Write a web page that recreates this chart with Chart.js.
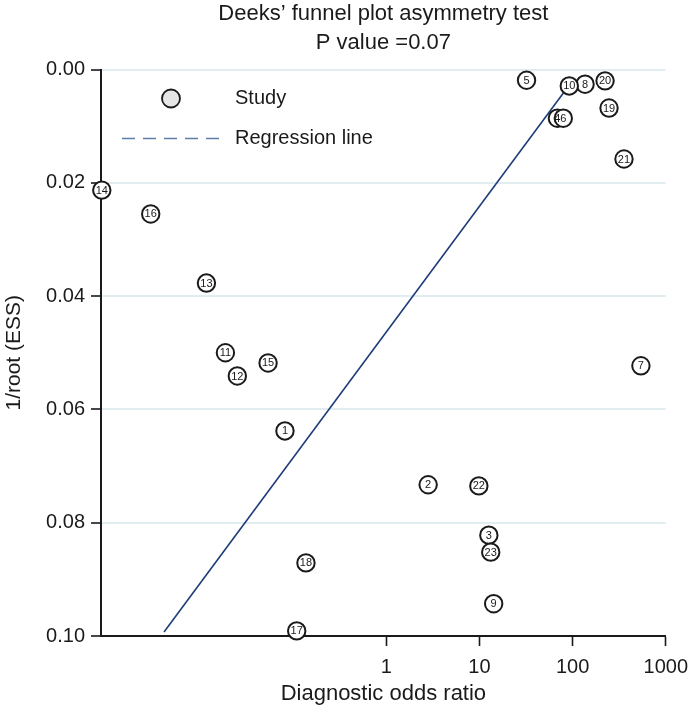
<!DOCTYPE html>
<html lang="en">
<head>
<meta charset="UTF-8">
<title>Deeks funnel plot</title>
<script src="https://cdn.jsdelivr.net/npm/chart.js@4.4.0/dist/chart.umd.min.js"></script>
<style>
  html, body { margin: 0; padding: 0; background: #fff; }
</style>
</head>
<body>
<canvas id="funnel" width="697" height="716"></canvas>
<script>
// study numbers, diagnostic odds ratio and 1/root(ESS)
const studies    = ['1', '2', '3', '4', '5', '6', '7', '8', '9', '10', '11', '12',
                    '13', '14', '15', '16', '17', '18', '19', '20', '21', '22', '23'];
const dor        = [0.0815, 2.81, 12.6, 68.6, 32.0, 79.4, 541, 136, 14.2, 92.1, 0.0187, 0.0251,
                    0.0117, 0.00088, 0.0537, 0.00295, 0.109, 0.137, 246, 223, 356, 9.84, 13.2];
const invRootEss = [0.0638, 0.0733, 0.0822, 0.0086, 0.0019, 0.0086, 0.0523, 0.0026, 0.0943, 0.0029, 0.0500, 0.0541,
                    0.0377, 0.0213, 0.0518, 0.0255, 0.0991, 0.0871, 0.0068, 0.0020, 0.0158, 0.0735, 0.0852];

// regression line end points
const lineDor = [0.0041, 86];
const lineY   = [0.0993, 0.0034];

// axis ticks
const xTicks = [1, 10, 100, 1000];
const yTicks = [0, 0.02, 0.04, 0.06, 0.08, 0.10];

const titleLines = ['Deeks\u2019 funnel plot asymmetry test', 'P value =0.07'];

const FONT = '"Liberation Sans", Arial, Helvetica, sans-serif';
const INK = '#1a1a1a';

// two-line title, centred over the plot area
const plotTitle = {
    id: 'plotTitle',
    afterDraw(chart) {
        const ctx = chart.ctx;
        const a = chart.chartArea;
        const cx = (a.left + a.right) / 2;
        ctx.save();
        ctx.fillStyle = INK;
        ctx.font = '22px ' + FONT;
        ctx.textAlign = 'center';
        ctx.textBaseline = 'middle';
        ctx.fillText(titleLines[0], cx, 14);
        ctx.fillText(titleLines[1], cx, 43);
        ctx.restore();
    }
};

// draws the study number inside each circle
const studyLabels = {
    id: 'studyLabels',
    afterDatasetsDraw(chart) {
        const ctx = chart.ctx;
        const meta = chart.getDatasetMeta(0);
        ctx.save();
        ctx.fillStyle = INK;
        ctx.font = '11px ' + FONT;
        ctx.textAlign = 'center';
        ctx.textBaseline = 'middle';
        meta.data.forEach((pt, i) => {
            ctx.fillText(studies[i], pt.x, pt.y + 0.5);
        });
        ctx.restore();
    }
};

// legend sits inside the plot, top left
const innerLegend = {
    id: 'innerLegend',
    afterDraw(chart) {
        const ctx = chart.ctx;
        const a = chart.chartArea;
        const mx = a.left + 70, tx = a.left + 134;
        const y1 = a.top + 29, y2 = a.top + 69;
        ctx.save();
        // study marker
        ctx.beginPath();
        ctx.arc(mx, y1, 9, 0, Math.PI * 2);
        ctx.fillStyle = '#e6e6e6';
        ctx.fill();
        ctx.lineWidth = 1.8;
        ctx.strokeStyle = INK;
        ctx.stroke();
        // dashed regression line
        ctx.beginPath();
        ctx.setLineDash([13, 8]);
        ctx.moveTo(a.left + 21, y2);
        ctx.lineTo(a.left + 118, y2);
        ctx.strokeStyle = '#5b7fa8';
        ctx.lineWidth = 1.6;
        ctx.stroke();
        ctx.setLineDash([]);
        // labels
        ctx.fillStyle = INK;
        ctx.font = '20px ' + FONT;
        ctx.textAlign = 'left';
        ctx.textBaseline = 'middle';
        ctx.fillText('Study', tx, y1);
        ctx.fillText('Regression line', tx, y2);
        ctx.restore();
    }
};

const points = dor.map((x, i) => ({ x: x, y: invRootEss[i] }));
const regLine = lineDor.map((x, i) => ({ x: x, y: lineY[i] }));

const config = {
    type: 'scatter',
    data: {
        datasets: [{
            label: 'Study',
            data: points,
            clip: false,
            pointRadius: 8.7,
            pointHoverRadius: 8.7,
            pointBackgroundColor: '#ffffff',
            pointBorderColor: INK,
            pointBorderWidth: 2
        }, {
            type: 'line',
            label: 'Regression line',
            data: regLine,
            borderColor: '#1f3b78',
            borderWidth: 1.6,
            pointRadius: 0,
            fill: false
        }]
    },
    options: {
        responsive: false,
        animation: false,
        layout: { padding: { top: 69.5, right: 28, bottom: 0, left: 0 } },
        plugins: {
            legend: { display: false },
            tooltip: { enabled: false }
        },
        scales: {
            x: {
                type: 'logarithmic',
                min: 0.000863,
                max: 1000,
                afterBuildTicks: s => { s.ticks = xTicks.map(v => ({ value: v })); },
                afterFit: s => { s.height = 80; },
                ticks: {
                    autoSkip: false,
                    maxRotation: 0,
                    padding: 9,
                    color: INK,
                    font: { family: FONT, size: 20 },
                    callback: v => String(v)
                },
                grid: { drawOnChartArea: false, tickColor: INK, tickLength: 10, tickWidth: 1.6 },
                border: { color: INK, width: 2 },
                title: {
                    display: true,
                    text: 'Diagnostic odds ratio',
                    color: INK,
                    font: { family: FONT, size: 22 },
                    padding: { top: 0, bottom: 9 }
                }
            },
            y: {
                type: 'linear',
                reverse: true,
                min: 0,
                max: 0.1,
                afterBuildTicks: s => { s.ticks = yTicks.map(v => ({ value: v })); },
                afterFit: s => { s.width = 101; },
                ticks: {
                    padding: 6,
                    color: INK,
                    font: { family: FONT, size: 20 },
                    callback: v => Number(v).toFixed(2)
                },
                grid: {
                    color: c => (c.tick && c.tick.value >= 0.1) ? 'rgba(0,0,0,0)' : '#e2edf1',
                    lineWidth: 2,
                    tickColor: INK,
                    tickLength: 10,
                    tickWidth: 1.6
                },
                border: { color: INK, width: 2 },
                title: {
                    display: true,
                    text: '1/root (ESS)',
                    color: INK,
                    font: { family: FONT, size: 21 },
                    padding: { top: 2, bottom: 0 }
                }
            }
        }
    },
    plugins: [plotTitle, studyLabels, innerLegend]
};

const funnelChart = new Chart(document.getElementById('funnel'), config);
</script>
</body>
</html>
